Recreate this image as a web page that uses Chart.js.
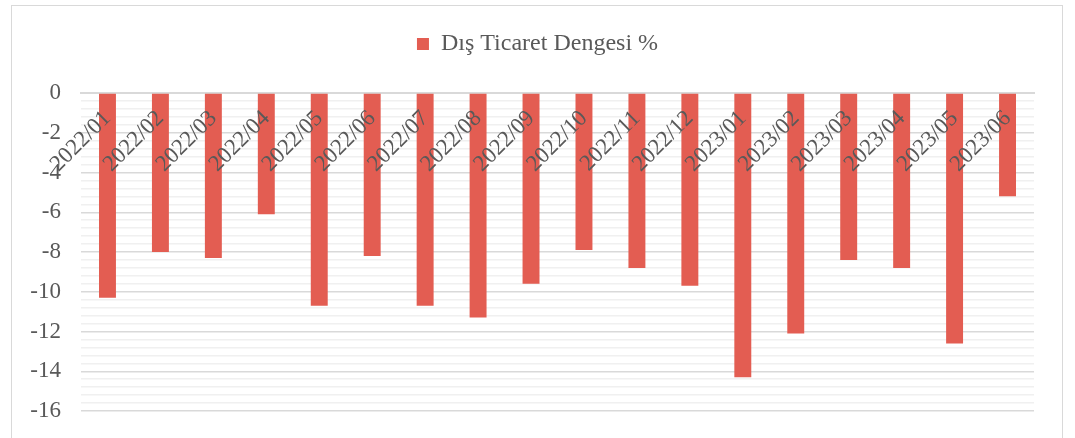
<!DOCTYPE html>
<html>
<head>
<meta charset="utf-8">
<script src="https://cdn.jsdelivr.net/npm/chart.js@4/dist/chart.umd.min.js"></script>
<style>
  html, body { margin: 0; padding: 0; background: #ffffff; overflow: hidden; }
  #frame { position: absolute; left: 11px; top: 5px; width: 1052px; height: 460px; border: 1.5px solid #d9d9d9; box-sizing: border-box; }
  #wrap { position: absolute; left: 0; top: 0; width: 1075px; height: 438px; }
</style>
</head>
<body>
<div id="frame"></div>
<div id="wrap"><canvas id="c" width="1075" height="438"></canvas></div>
<script>
const categories = ["2022/01","2022/02","2022/03","2022/04","2022/05","2022/06","2022/07","2022/08","2022/09","2022/10","2022/11","2022/12","2023/01","2023/02","2023/03","2023/04","2023/05","2023/06"];
const seriesName = "Dış Ticaret Dengesi %";
const balanceValues = [-10.3, -8.0, -8.3, -6.1, -10.7, -8.2, -10.7, -11.3, -9.6, -7.9, -8.8, -9.7, -14.3, -12.1, -8.4, -8.8, -12.6, -5.2];
const yMin = -16, yMax = 0, yMajorStep = 2, yMinorStep = 0.4;

const FONT = "'Liberation Serif', 'Times New Roman', serif";
const TEXT = "#595959";
function isMajor(v) { return Math.abs(v / yMajorStep - Math.round(v / yMajorStep)) < 1e-6; }

const legendGap = {
  id: 'legendGap',
  beforeLayout(chart) {
    const lg = chart.legend;
    if (lg && !lg._gapPatched) {
      lg._gapPatched = true;
      const origFit = lg.fit;
      lg.fit = function () { origFit.call(this); this.height += 27; };
    }
  }
};

new Chart(document.getElementById('c'), {
  type: 'bar',
  data: {
    labels: categories,
    datasets: [{
      label: seriesName,
      data: balanceValues,
      backgroundColor: '#E35D52',
      borderWidth: 0,
      categoryPercentage: 1.0,
      barPercentage: 0.32
    }]
  },
  plugins: [legendGap],
  options: {
    responsive: false,
    animation: false,
    devicePixelRatio: 1,
    layout: { padding: { top: 22, left: 0, right: 0, bottom: 27 } },
    plugins: {
      legend: {
        position: 'top',
        labels: { boxWidth: 12, boxHeight: 12, color: TEXT, font: { family: FONT, size: 24 }, padding: 10 }
      },
      tooltip: { enabled: false }
    },
    scales: {
      x: {
        position: { y: 0 },
        grid: { display: false, drawTicks: false },
        border: { display: true, color: '#d9d9d9', width: 2 },
        ticks: { z: 1, color: TEXT, font: { family: FONT, size: 23 }, minRotation: 45, maxRotation: 45, autoSkip: false, padding: 12 },
        afterFit: (s) => { s.height = 0; }
      },
      y: {
        min: yMin, max: yMax,
        grid: {
          drawTicks: false,
          color: (ctx) => isMajor(ctx.tick.value) ? '#d9d9d9' : '#f0f0f0',
          lineWidth: 1.5
        },
        border: { display: false },
        ticks: {
          stepSize: yMinorStep,
          autoSkip: false,
          color: TEXT,
          font: { family: FONT, size: 23 },
          padding: 20,
          callback: (v) => isMajor(v) ? String(Math.round(v)) : ''
        },
        afterFit: (s) => { s.width = 81; s.paddingTop = 0; s.paddingBottom = 0; }
      },
      yRight: {
        type: 'linear',
        position: 'right',
        min: yMin, max: yMax,
        grid: { display: false, drawTicks: false },
        border: { display: false },
        ticks: { display: false },
        afterFit: (s) => { s.width = 41; s.paddingTop = 0; s.paddingBottom = 0; }
      }
    }
  }
});
</script>
</body>
</html>
